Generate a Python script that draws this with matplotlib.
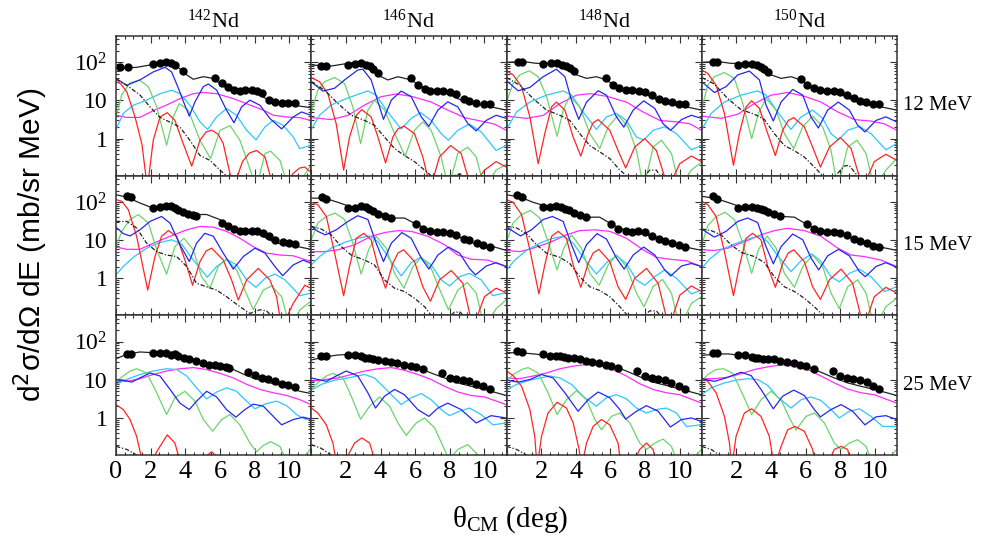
import matplotlib.pyplot as plt
from matplotlib.ticker import FixedLocator, MultipleLocator, LogLocator, NullFormatter

plt.rcParams['font.family'] = 'Liberation Serif'
plt.rcParams['mathtext.fontset'] = 'custom'
plt.rcParams['mathtext.rm'] = 'Liberation Serif'
plt.rcParams['mathtext.it'] = 'Liberation Serif:italic'

nuclei = ['142', '146', '148', '150']
energies = ['12 MeV', '15 MeV', '25 MeV']

# ---- 12 MeV ----
nd142_12 = dict(
    data=[(0.25, 74), (0.72, 74), (2.15, 90), (2.54, 98), (2.88, 102), (3.15, 94), (3.4, 83), (3.88, 60),
          (5.71, 40), (6.1, 29), (6.48, 22), (6.81, 18.7), (7.15, 18), (7.46, 18.7), (7.83, 18.7), (8.15, 17.6),
          (8.4, 16), (8.85, 10.6), (9.17, 9.4), (9.6, 8.7), (9.94, 8.7), (10.33, 8.7)],
    total=[(0, 69), (1.19, 74), (1.96, 85), (2.92, 98), (3.5, 80), (4.08, 47), (4.46, 36), (5.04, 42), (5.6, 38),
           (6.19, 24), (6.77, 17.6), (7.54, 17), (8.3, 13.8), (8.88, 9.8), (9.46, 8), (10.23, 7.5), (11.25, 6.5)],
    dashed=[(0, 36), (0.62, 25), (1.38, 14), (1.96, 6.8), (2.54, 3.6), (3.12, 2.7), (3.69, 2.0), (4.27, 0.9),
            (4.85, 0.36), (5.42, 0.27), (6, 0.15), (6.38, 0.107), (6.8, 0.07)],
    red=[(0, 31), (0.25, 28), (0.62, 17), (1.1, 3.7), (1.5, 0.7), (1.81, 0.05), (2.15, 0.91), (2.54, 3.7),
         (2.96, 4.8), (3.4, 3.0), (3.88, 0.74), (4.37, 0.19), (4.85, 0.91), (5.2, 1.5), (5.52, 1.66), (5.9, 1.3),
         (6.19, 0.74), (6.77, 0.05), (7.3, 0.25), (7.7, 0.42), (8.12, 0.49), (8.6, 0.33), (9.1, 0.05),
         (9.6, 0.03), (10.2, 0.12), (10.6, 0.17), (10.9, 0.18), (11.25, 0.13)],
    green=[(0, 3.6), (0.33, 14), (0.81, 29), (1.35, 34.5), (1.87, 23), (2.35, 6.8), (2.92, 0.67), (3.31, 3.7),
           (3.65, 8.3), (4.17, 5.6), (4.85, 0.9), (5.46, 0.3), (6, 1.65), (6.58, 2.2), (7.15, 0.91), (7.63, 0.22),
           (8.1, 0.05), (8.6, 0.41), (8.92, 0.47), (9.46, 0.27), (10.1, 0.03), (10.8, 0.1), (11.25, 0.2)],
    blue=[(0, 38), (0.62, 25), (1.38, 34.5), (2.15, 56), (2.83, 74), (3.21, 56), (3.6, 21), (4.0, 7), (4.23, 3.9),
          (4.56, 9.2), (5.04, 23), (5.33, 27), (5.81, 18.7), (6.38, 5.6), (6.81, 2.6), (7.25, 6.8), (7.73, 10.2),
          (8.31, 7.5), (8.88, 3.4), (9.56, 1.8), (10.23, 3.7), (10.71, 5.0), (11.25, 4.1)],
    cyan=[(0, 1.74), (0.42, 4.6), (1, 7.5), (1.77, 10.2), (2.54, 15), (3.21, 18.6), (3.69, 15.1), (4.27, 7.5),
          (4.85, 2.75), (5.29, 1.74), (5.81, 3.72), (6.38, 6.17), (6.96, 4.07), (7.54, 1.66), (8.08, 0.93),
          (8.6, 2.04), (9.08, 3.0), (9.65, 2.24), (10.23, 1.1), (10.6, 0.55), (11.25, 0.66)],
    magenta=[(0, 4.1), (0.62, 3.6), (1.38, 3.6), (2.15, 5.4), (2.92, 7.6), (3.69, 11.2), (4.46, 15.1), (5.04, 16.2),
             (5.81, 15.1), (6.77, 11.2), (7.73, 7.6), (8.5, 5.6), (9.08, 4.1), (9.85, 3.7), (10.6, 3.55), (11.25, 3.0)],
)

nd146_12 = dict(
    data=[(0.58, 80), (0.87, 80), (2.12, 85), (2.5, 89), (2.88, 94), (3.17, 85), (3.37, 80), (3.56, 66), (3.85, 51),
          (5.77, 38), (6.15, 25), (6.54, 19.5), (6.88, 17.6), (7.27, 17.6), (7.6, 17.6), (7.98, 16.9), (8.37, 14.7),
          (8.81, 10.8), (9.13, 9.8), (9.52, 8.7), (9.96, 8), (10.29, 8)],
    total=[(0, 85), (1.15, 80), (2.12, 94), (2.88, 104), (3.46, 77), (4.04, 42), (4.42, 34.5), (5, 42), (5.77, 34.5),
           (6.35, 23), (7.12, 17), (7.88, 15), (8.65, 10.2), (9.42, 8), (10.19, 7.1), (11.25, 5.6)],
    dashed=[(0, 31), (0.77, 18.6), (1.54, 8.3), (2.31, 4.1), (3.08, 3.0), (3.65, 2.24), (4.23, 1.1), (4.81, 0.55),
            (5.38, 0.36), (5.96, 0.25), (6.54, 0.15), (6.92, 0.107), (7.5, 0.06), (8.3, 0.11), (8.6, 0.12),
            (9.0, 0.08), (9.3, 0.05)],
    red=[(0, 40), (0.48, 31), (0.96, 15), (1.44, 2.45), (1.87, 0.15), (2.21, 1.1), (2.6, 4.1), (2.92, 5.75),
         (3.46, 3.7), (3.85, 1.1), (4.29, 0.23), (4.71, 1.1), (5.0, 1.8), (5.35, 2.14), (5.96, 1.35), (6.44, 0.33),
         (6.88, 0.05), (7.4, 0.33), (8.04, 0.66), (8.65, 0.41), (9.23, 0.05), (10.0, 0.15), (10.67, 0.25),
         (11.25, 0.18)],
    green=[(0, 5), (0.38, 18.6), (0.77, 31), (1.35, 40), (1.92, 28), (2.4, 6.8), (2.85, 0.74), (3.27, 5.6),
           (3.65, 10.2), (4.23, 5.6), (4.81, 1.35), (5.42, 0.35), (5.96, 1.66), (6.44, 2.75), (6.92, 1.66),
           (7.5, 0.33), (7.92, 0.05), (8.46, 0.41), (9.04, 0.6), (9.52, 0.33), (10.0, 0.05), (10.67, 0.15),
           (11.25, 0.21)],
    blue=[(0, 31), (0.67, 17.6), (1.35, 21), (1.92, 34.5), (2.69, 63), (2.98, 66), (3.46, 34.5), (3.85, 9.2),
          (4.17, 3.2), (4.62, 10.2), (5.19, 17.6), (5.77, 12.6), (6.35, 3.7), (6.79, 2.1), (7.31, 5.6), (7.88, 9.2),
          (8.46, 6.8), (9.04, 2.45), (9.52, 1.6), (10.1, 3.0), (10.67, 4.1), (11.25, 3.4)],
    cyan=[(0, 1.74), (0.48, 4.1), (1.15, 7.6), (1.92, 10.7), (2.69, 14.5), (3.27, 17.8), (3.75, 13.8), (4.33, 5.6),
          (5.19, 1.78), (5.77, 3.4), (6.31, 4.8), (6.92, 3.0), (7.5, 1.35), (7.92, 0.91), (8.46, 1.66), (9.13, 2.4),
          (9.81, 1.5), (10.67, 0.49), (11.25, 0.66)],
    magenta=[(0, 3.55), (1.15, 3.16), (2.12, 4.07), (3.08, 7.6), (4.04, 12.6), (4.9, 14.8), (5.77, 12.9),
             (6.92, 9.1), (7.88, 5.6), (8.85, 3.55), (9.81, 2.88), (10.58, 2.4), (11.25, 1.66)],
)

nd148_12 = dict(
    data=[(0.67, 104), (0.92, 104), (2.12, 91), (2.54, 94), (2.92, 94), (3.23, 85), (3.42, 80), (3.65, 72),
          (3.88, 60), (5.73, 38), (6.12, 26), (6.48, 21), (6.88, 18.7), (7.27, 18.7), (7.65, 18), (8.02, 16.9),
          (8.42, 13.8), (8.81, 10.8), (9.15, 9.8), (9.54, 8.9), (9.96, 8.3), (10.29, 8)],
    total=[(0, 100), (0.96, 105), (1.73, 94), (2.69, 94), (3.46, 77), (4.04, 47), (4.62, 38), (5.19, 42),
           (5.77, 34.5), (6.35, 23), (7.12, 18), (7.88, 16), (8.65, 10.6), (9.42, 8), (10.19, 7.1), (11.25, 5.6)],
    dashed=[(0, 40), (0.77, 25), (1.54, 11.2), (2.31, 5.6), (3.08, 4.1), (3.65, 3.0), (4.23, 1.35), (4.81, 0.66),
            (5.38, 0.45), (5.96, 0.3), (6.54, 0.15), (6.92, 0.107), (7.5, 0.06), (8.27, 0.15), (8.65, 0.15),
            (9.1, 0.07)],
    red=[(0, 60), (0.38, 47), (0.87, 23), (1.35, 3.7), (1.83, 0.22), (2.21, 1.35), (2.6, 6.8), (2.88, 9.1),
         (3.37, 5.6), (3.85, 1.1), (4.29, 0.35), (4.71, 1.35), (5.0, 2.6), (5.29, 3.16), (5.96, 1.66), (6.44, 0.49),
         (6.88, 0.17), (7.4, 0.6), (7.98, 1.0), (8.65, 0.49), (9.33, 0.05), (10.0, 0.22), (10.67, 0.35),
         (11.25, 0.25)],
    green=[(0, 9.1), (0.38, 28), (0.77, 47), (1.31, 60), (1.83, 42), (2.31, 12.6), (2.92, 1.15), (3.27, 5.6),
           (3.65, 12.9), (4.23, 6.8), (4.81, 1.35), (5.38, 0.55), (5.87, 2.04), (6.44, 4.1), (7.02, 2.04),
           (7.5, 0.49), (7.92, 0.05), (8.46, 0.6), (8.94, 0.91), (9.52, 0.41), (10.0, 0.05), (10.67, 0.15),
           (11.25, 0.24)],
    blue=[(0, 33), (0.67, 18), (1.35, 22), (2.12, 42), (2.88, 66), (3.37, 42), (3.75, 10.2), (4.17, 3.2),
          (4.62, 9.1), (5.29, 18), (5.77, 13.8), (6.35, 3.7), (6.77, 2.0), (7.31, 5.6), (7.92, 9.8), (8.56, 6.2),
          (9.04, 2.45), (9.48, 1.66), (10.1, 3.16), (10.67, 4.1), (11.25, 3.4)],
    cyan=[(0, 1.74), (0.58, 5), (1.35, 9.1), (2.31, 13.8), (3.27, 17.8), (3.75, 13.8), (4.42, 5), (5.19, 1.74),
          (5.77, 3.72), (6.35, 4.6), (6.92, 3.0), (7.5, 1.1), (7.94, 0.93), (8.46, 1.66), (9.13, 2.04), (9.81, 1.35),
          (10.67, 0.51), (11.25, 0.66)],
    magenta=[(0, 3.9), (1.15, 3.4), (2.12, 4.07), (3.08, 8.3), (4.04, 13.8), (4.81, 15.1), (5.77, 12.9),
             (6.92, 9.1), (7.88, 5), (8.85, 3.0), (9.81, 2.75), (10.58, 2.45), (11.25, 1.66)],
)

nd150_12 = dict(
    data=[(0.63, 104), (0.88, 104), (2.12, 85), (2.5, 91), (2.88, 91), (3.19, 85), (3.42, 77), (3.62, 66),
          (3.85, 57), (5.73, 36), (6.08, 25), (6.46, 21), (6.85, 18.7), (7.23, 18), (7.62, 18), (7.98, 16.9),
          (8.38, 13.8), (8.77, 11.3), (9.13, 9.6), (9.48, 8.9), (9.9, 8.3), (10.25, 8)],
    total=[(0, 100), (0.92, 105), (1.69, 94), (2.65, 94), (3.42, 77), (4, 47), (4.58, 38), (5.15, 42), (5.73, 34.5),
           (6.31, 23), (7.08, 18), (7.85, 16), (8.62, 10.6), (9.38, 8), (10.15, 7.1), (11.25, 5.6)],
    dashed=[(0, 40), (0.73, 27), (1.5, 11.2), (2.27, 5.75), (3.04, 4.37), (3.62, 3.16), (4.19, 1.35), (4.77, 0.66),
            (5.35, 0.48), (5.92, 0.33), (6.5, 0.18), (6.98, 0.107), (7.5, 0.08), (8.2, 0.19), (8.5, 0.2),
            (8.9, 0.12), (9.2, 0.05)],
    red=[(0, 63), (0.35, 51), (0.83, 25), (1.31, 4.57), (1.83, 0.2), (2.17, 1.35), (2.56, 6.8), (2.88, 9.8),
         (3.33, 6.2), (3.81, 1.35), (4.25, 0.36), (4.67, 1.66), (5.0, 3.0), (5.31, 3.55), (5.92, 2.04), (6.4, 0.6),
         (6.85, 0.18), (7.37, 0.6), (8.0, 1.07), (8.62, 0.55), (9.29, 0.05), (9.96, 0.25), (10.63, 0.39),
         (11.25, 0.27)],
    green=[(0, 6.2), (0.35, 25), (0.73, 42), (1.31, 54), (1.88, 38), (2.37, 8.3), (2.88, 1.0), (3.27, 4.57),
           (3.71, 11.2), (4.29, 5.6), (4.77, 1.35), (5.31, 0.55), (5.83, 2.04), (6.4, 3.9), (6.98, 2.04),
           (7.46, 0.49), (7.85, 0.05), (8.42, 0.6), (8.96, 0.91), (9.48, 0.41), (9.96, 0.05), (10.63, 0.15),
           (11.25, 0.3)],
    blue=[(0, 31), (0.73, 16.2), (1.4, 23), (2.08, 47), (2.75, 59), (3.33, 34.5), (3.71, 7.6), (4.13, 2.9),
          (4.58, 9.1), (5.25, 19.5), (5.83, 13.8), (6.31, 3.7), (6.73, 1.9), (7.27, 5.6), (7.88, 9.1), (8.52, 5.6),
          (9.0, 2.24), (9.42, 1.5), (10.06, 3.0), (10.63, 3.72), (11.25, 2.75)],
    cyan=[(0, 1.74), (0.54, 4.57), (1.31, 9.1), (2.27, 13.8), (3.23, 17.8), (3.71, 13.8), (4.38, 5), (5.15, 1.74),
          (5.73, 3.72), (6.4, 5.6), (6.98, 3.39), (7.46, 1.35), (7.9, 0.93), (8.42, 1.66), (9.1, 2.1), (9.77, 1.35),
          (10.63, 0.51), (11.25, 0.74)],
    magenta=[(0, 3.9), (1.12, 3.4), (2.08, 4.37), (3.04, 8.3), (4, 13.8), (4.96, 16.2), (5.92, 12.9), (6.88, 9.1),
             (7.85, 5), (8.81, 3.16), (9.77, 2.88), (10.54, 2.45), (11.25, 1.66)],
)

# ---- 15 MeV ----
nd142_15 = dict(
    data=[(0.62, 147), (0.85, 135), (2.15, 69), (2.54, 74), (2.88, 80), (3.15, 77), (3.4, 69), (3.6, 63),
          (3.88, 54), (4.17, 49), (4.42, 45), (4.62, 42), (6.1, 29), (6.48, 24), (6.81, 19.5), (7.15, 17.6),
          (7.46, 17.6), (7.83, 17.6), (8.15, 16.9), (8.46, 15.2), (8.85, 12.5), (9.17, 10.2), (9.62, 8.7),
          (9.98, 8.3), (10.33, 8)],
    total=[(0, 155), (0.62, 135), (1.38, 94), (2.15, 69), (2.92, 80), (3.69, 66), (4.46, 47), (5.23, 47),
           (6, 34.5), (6.77, 21), (7.54, 17), (8.31, 13.8), (9.08, 9.1), (9.85, 7.1), (10.62, 6.6), (11.25, 5.75)],
    dashed=[(0, 31), (0.62, 31), (1.19, 20.9), (1.77, 8.3), (2.35, 5), (2.92, 4.07), (3.5, 3.72), (4.08, 2.04),
            (4.65, 0.74), (5.23, 0.6), (5.81, 0.49), (6.38, 0.33), (7.15, 0.18), (7.73, 0.12), (8.31, 0.15),
            (8.69, 0.14), (9.2, 0.08)],
    red=[(0, 115), (0.33, 105), (0.71, 63), (1.19, 12.6), (1.83, 0.49), (2.25, 3.72), (2.63, 12.6), (3.02, 17.8),
         (3.5, 12.6), (3.98, 3.0), (4.42, 0.66), (4.85, 2.75), (5.2, 5.2), (5.52, 6.17), (6.19, 3.0), (6.67, 0.91),
         (7.06, 0.27), (7.54, 0.91), (8.21, 1.82), (8.88, 0.91), (9.27, 0.33), (9.56, 0.05), (10.23, 0.22),
         (10.9, 0.66), (11.25, 0.55)],
    green=[(0, 6.8), (0.33, 17), (0.81, 34.7), (1.29, 46.8), (1.87, 28.2), (2.35, 5.6), (2.92, 1.29), (3.4, 6.76),
           (3.92, 11.2), (4.46, 5.6), (4.94, 1.1), (5.42, 0.55), (5.9, 2.04), (6.38, 3.16), (6.96, 1.66),
           (7.44, 0.49), (7.92, 0.15), (8.5, 0.49), (8.98, 0.63), (9.56, 0.33), (10.04, 0.05), (10.62, 0.15),
           (11.25, 0.25)],
    blue=[(0, 22), (0.42, 14.8), (0.81, 12.9), (1.38, 18.6), (1.96, 31), (2.63, 41.7), (3.12, 28), (3.69, 7.6),
          (4.23, 2.75), (4.65, 8.3), (5.13, 15.1), (5.62, 12.6), (6.19, 4.57), (6.77, 1.74), (7.35, 3.72),
          (8.02, 6.17), (8.6, 4.57), (9.17, 2.04), (9.62, 1.17), (10.23, 2.24), (10.81, 3.0), (11.25, 2.45)],
    cyan=[(0, 1.23), (0.42, 2.04), (1, 3.55), (1.77, 6.17), (2.54, 8.7), (3.21, 10.2), (3.79, 7.94), (4.37, 3.39),
          (5.27, 1.07), (5.81, 2.04), (6.38, 3.16), (6.96, 2.24), (7.54, 0.91), (8.08, 0.58), (8.6, 1.0),
          (9.17, 1.29), (9.75, 0.91), (10.62, 0.35), (11.25, 0.41)],
    magenta=[(0, 6.6), (0.62, 5.75), (1.38, 5.75), (2.15, 8.3), (3.12, 12.6), (4.08, 18.6), (4.85, 22.9),
             (5.62, 21.9), (6.38, 17), (7.15, 11.2), (7.92, 6.76), (8.69, 4.57), (9.46, 4.07), (10.23, 3.89),
             (11.25, 2.75)],
)

nd146_15 = dict(
    data=[(0.62, 135), (0.87, 120), (2.12, 69), (2.5, 69), (2.88, 80), (3.17, 74), (3.31, 66), (3.56, 57),
          (3.88, 49), (4.23, 44), (4.58, 38), (6.06, 26), (6.44, 19.5), (6.88, 16.9), (7.27, 16.2), (7.6, 16.2),
          (7.98, 15.2), (8.37, 13.3), (8.81, 10.8), (9.13, 9.8), (9.56, 8.3), (9.94, 7.5), (10.29, 6.8)],
    total=[(0, 126), (0.77, 126), (1.54, 98), (2.31, 74), (3.08, 77), (3.85, 56), (4.62, 38), (5.38, 38),
           (6.15, 25), (6.92, 17.8), (7.69, 15.1), (8.46, 12.6), (9.23, 8.7), (10, 7.1), (10.58, 6.6), (11.25, 5.4)],
    dashed=[(0, 23), (0.58, 19.5), (1.15, 13.8), (1.73, 6.76), (2.31, 4.07), (3.08, 3.0), (3.65, 2.24),
            (4.23, 0.91), (4.81, 0.55), (5.38, 0.45), (5.96, 0.3), (6.54, 0.18), (6.92, 0.107), (7.6, 0.07),
            (8.27, 0.13), (8.6, 0.13), (9.0, 0.08)],
    red=[(0, 98), (0.38, 85), (0.87, 41.7), (1.35, 4.57), (1.87, 0.35), (2.21, 2.04), (2.6, 11.2), (3.04, 15.1),
         (3.46, 10.2), (3.85, 2.04), (4.29, 0.55), (4.71, 2.45), (5.0, 4.57), (5.33, 5.6), (5.96, 2.75),
         (6.44, 0.6), (6.88, 0.25), (7.4, 0.91), (8.08, 1.6), (8.75, 0.74), (9.33, 0.05), (10.0, 0.33),
         (10.67, 0.55), (11.25, 0.42)],
    green=[(0, 10.2), (0.38, 28.2), (0.87, 41.7), (1.38, 51.3), (1.92, 34.7), (2.4, 8.3), (2.88, 1.29),
           (3.31, 5.6), (3.75, 12.6), (4.33, 6.17), (4.81, 1.35), (5.35, 0.55), (5.87, 2.04), (6.35, 3.55),
           (6.92, 1.82), (7.5, 0.41), (7.92, 0.15), (8.46, 0.49), (9.0, 0.78), (9.52, 0.41), (10.0, 0.05),
           (10.67, 0.16), (11.25, 0.27)],
    blue=[(0, 23), (0.38, 17), (0.81, 13.8), (1.44, 18.6), (2.12, 31), (2.69, 43.7), (3.27, 34.7), (3.75, 8.3),
          (4.17, 2.75), (4.62, 8.3), (5.23, 15.8), (5.77, 11.2), (6.35, 3.39), (6.79, 1.74), (7.31, 4.07),
          (7.92, 6.6), (8.56, 4.57), (9.13, 1.82), (9.48, 1.23), (10.1, 2.1), (10.67, 2.57), (11.25, 2.04)],
    cyan=[(0, 2.24), (0.48, 3.72), (1.15, 6.17), (1.92, 8.7), (2.7, 11.2), (3.37, 12.9), (3.85, 9.1), (4.42, 3.72),
          (5.19, 1.15), (5.77, 2.57), (6.31, 3.55), (6.92, 2.24), (7.5, 0.91), (7.98, 0.63), (8.56, 1.1),
          (9.13, 1.35), (9.81, 0.91), (10.48, 0.35), (11.25, 0.42)],
    magenta=[(0, 5), (0.77, 5), (1.54, 5.6), (2.5, 7.6), (3.46, 12.6), (4.23, 15.8), (5, 17.8), (5.77, 17),
             (6.73, 12.6), (7.69, 7.6), (8.46, 4.07), (9.23, 3.16), (10.19, 3.0), (11.25, 2.04)],
)

nd148_15 = dict(
    data=[(0.62, 155), (0.87, 135), (2.12, 74), (2.5, 74), (2.88, 77), (3.17, 72), (3.4, 66), (3.6, 60),
          (3.88, 51), (4.23, 47), (4.58, 40), (6.06, 27), (6.44, 20), (6.88, 17), (7.27, 16.2), (7.6, 17),
          (7.98, 16), (8.37, 13), (8.81, 10.8), (9.17, 9.6), (9.56, 8.3), (9.94, 7.5), (10.29, 6.5)],
    total=[(0, 155), (0.77, 135), (1.54, 98), (2.31, 77), (3.08, 77), (3.85, 56), (4.62, 40), (5.38, 40),
           (6.15, 25), (6.92, 17.8), (7.69, 15.1), (8.46, 12.6), (9.23, 8.7), (10, 7.1), (11.25, 5.4)],
    dashed=[(0, 23), (0.58, 20.9), (1.15, 14.8), (1.73, 7.6), (2.31, 4.57), (3.08, 3.55), (3.65, 2.45),
            (4.23, 1.1), (4.81, 0.6), (5.38, 0.48), (5.96, 0.33), (6.54, 0.18), (6.92, 0.115), (7.6, 0.08),
            (8.27, 0.14), (8.65, 0.14), (9.0, 0.09)],
    red=[(0, 115), (0.38, 98), (0.87, 46.8), (1.35, 5.6), (1.87, 0.39), (2.21, 2.24), (2.6, 12.6), (2.98, 17),
         (3.46, 11.2), (3.85, 2.24), (4.29, 0.58), (4.71, 2.45), (5.0, 4.6), (5.33, 5.75), (5.96, 2.75),
         (6.44, 0.6), (6.88, 0.28), (7.4, 1.0), (8.08, 1.82), (8.75, 0.74), (9.38, 0.05), (10.0, 0.36),
         (10.67, 0.63), (11.25, 0.45)],
    green=[(0, 9.1), (0.38, 28.2), (0.87, 46.8), (1.38, 60.3), (1.92, 38), (2.4, 9.1), (2.92, 1.66), (3.31, 6.17),
           (3.75, 13.8), (4.33, 6.17), (4.81, 1.35), (5.35, 0.66), (5.87, 2.24), (6.35, 4.07), (6.92, 2.04),
           (7.5, 0.41), (7.94, 0.18), (8.46, 0.6), (9.0, 0.93), (9.52, 0.41), (10.0, 0.05), (10.67, 0.22),
           (11.25, 0.33)],
    blue=[(0, 22), (0.81, 12.9), (1.44, 18.6), (2.12, 34.7), (2.65, 41.7), (3.27, 30.9), (3.75, 7.6), (4.17, 2.57),
          (4.62, 7.6), (5.23, 14.8), (5.77, 10.7), (6.35, 3.39), (6.79, 1.74), (7.31, 4.07), (7.92, 6.6),
          (8.56, 4.07), (9.13, 1.66), (9.48, 1.15), (10.1, 2.1), (10.67, 2.45), (11.25, 2.04)],
    cyan=[(0, 1.66), (0.48, 3.0), (1.15, 5.37), (1.92, 8.3), (2.6, 11), (3.27, 12.6), (3.85, 8.3), (4.42, 3.55),
          (5.19, 1.29), (5.77, 2.57), (6.35, 3.89), (6.92, 2.45), (7.5, 0.91), (7.98, 0.66), (8.56, 1.1),
          (9.13, 1.66), (9.81, 1.0), (10.67, 0.39), (11.25, 0.49)],
    magenta=[(0, 5.37), (0.77, 5), (1.54, 6.17), (2.5, 8.7), (3.46, 13.8), (4.23, 17.8), (5.1, 18.6), (5.96, 17),
             (6.92, 11.2), (7.88, 5.6), (8.65, 3.55), (9.42, 3.16), (10.38, 2.88), (11.25, 2.04)],
)

nd150_15 = dict(
    data=[(0.63, 141), (0.88, 120), (2.12, 69), (2.5, 72), (2.88, 72), (3.19, 69), (3.42, 66), (3.62, 63),
          (3.85, 54), (4.19, 48), (4.54, 42), (6.08, 27), (6.46, 20), (6.85, 16.9), (7.23, 16.2), (7.62, 16.2),
          (7.98, 15.2), (8.38, 13.3), (8.77, 10.6), (9.13, 9.6), (9.52, 8.3), (9.9, 7.1), (10.25, 6.8)],
    total=[(0, 141), (0.73, 126), (1.5, 98), (2.27, 74), (3.04, 77), (3.81, 56), (4.58, 42), (5.35, 40),
           (6.12, 25), (6.88, 17.8), (7.65, 15.1), (8.42, 12.6), (9.19, 8.7), (9.96, 7.1), (11.25, 5.4)],
    dashed=[(0, 19.5), (0.54, 17.8), (1.12, 13.8), (1.69, 7.6), (2.27, 4.79), (3.04, 3.72), (3.62, 2.57),
            (4.19, 1.1), (4.77, 0.6), (5.35, 0.45), (5.92, 0.3), (6.5, 0.18), (6.88, 0.12), (7.6, 0.07),
            (8.3, 0.105), (8.7, 0.105), (9.0, 0.07)],
    red=[(0, 105), (0.35, 85), (0.83, 41.7), (1.31, 5), (1.83, 0.35), (2.17, 2.04), (2.56, 11.2), (2.94, 15.1),
         (3.42, 10.2), (3.81, 2.04), (4.25, 0.58), (4.67, 2.45), (5.0, 4.6), (5.31, 5.6), (5.92, 2.75), (6.4, 0.6),
         (6.85, 0.28), (7.37, 0.91), (8.04, 1.74), (8.71, 0.74), (9.35, 0.05), (9.96, 0.33), (10.63, 0.58),
         (11.25, 0.41)],
    green=[(0, 7.6), (0.35, 24), (0.83, 41.7), (1.35, 53.7), (1.88, 34.7), (2.37, 8.3), (2.88, 1.35), (3.27, 5.6),
           (3.77, 12.9), (4.29, 6.17), (4.77, 1.35), (5.35, 0.58), (5.83, 2.04), (6.4, 4.07), (6.98, 2.04),
           (7.46, 0.41), (7.94, 0.16), (8.42, 0.6), (9.0, 0.91), (9.48, 0.41), (9.96, 0.05), (10.63, 0.18),
           (11.25, 0.3)],
    blue=[(0, 19.5), (0.73, 12), (1.4, 17), (2.08, 30.9), (2.65, 38), (3.23, 28.8), (3.71, 6.76), (4.13, 2.4),
          (4.58, 6.76), (5.25, 14.5), (5.83, 10.2), (6.31, 3.39), (6.75, 1.66), (7.27, 3.89), (7.9, 5.75),
          (8.52, 3.89), (9.1, 1.5), (9.44, 1.1), (10.06, 2.04), (10.63, 2.57), (11.25, 1.95)],
    cyan=[(0, 1.82), (0.44, 3.16), (1.12, 5.6), (1.88, 7.9), (2.6, 10.5), (3.33, 12.9), (3.81, 9.1), (4.38, 3.89),
          (5.15, 1.5), (5.73, 2.88), (6.35, 4.37), (6.88, 2.75), (7.46, 1.1), (7.94, 0.81), (8.52, 1.35),
          (9.1, 1.74), (9.77, 1.1), (10.54, 0.45), (11.25, 0.6)],
    magenta=[(0, 5.6), (0.73, 5.37), (1.5, 6.17), (2.46, 9.1), (3.42, 13.8), (4.19, 17.8), (4.96, 20.4),
             (5.92, 17.8), (6.88, 12.6), (7.85, 6.17), (8.62, 4.07), (9.38, 3.72), (10.35, 3.0), (11.25, 2.04)],
)

# ---- 25 MeV ----
nd142_25 = dict(
    data=[(0.62, 47), (0.85, 48), (2.15, 51), (2.54, 51), (2.88, 49), (3.15, 44), (3.4, 47), (3.6, 42),
          (3.92, 38), (4.23, 34.5), (4.62, 31), (5, 28), (5.38, 25), (5.71, 24), (6, 23), (6.33, 22), (6.54, 21),
          (7.63, 16), (8.02, 13), (8.4, 11.3), (8.79, 10.2), (9.17, 9.2), (9.56, 8), (9.9, 7.1), (10.33, 6.5)],
    total=[(0, 35.5), (0.62, 46.8), (1.38, 53.7), (2.15, 51.3), (2.92, 43.7), (3.69, 38), (4.46, 33.1),
           (5.23, 26.9), (6, 24), (6.77, 18.6), (7.54, 12.9), (8.31, 9.8), (9.08, 7.9), (9.85, 6.6), (10.62, 5),
           (11.25, 4.37)],
    dashed=[(0, 0.18), (0.62, 0.15), (1.19, 0.107), (1.6, 0.08)],
    red=[(0, 2.24), (0.42, 1.66), (0.81, 0.91), (1.19, 0.33), (1.6, 0.05), (2.2, 0.1), (2.54, 0.18), (2.96, 0.36),
         (3.4, 0.22), (3.8, 0.05), (4.6, 0.02), (5.2, 0.1), (5.52, 0.13), (5.8, 0.1), (6.2, 0.03)],
    green=[(0, 9.1), (0.42, 12.6), (0.81, 17), (1.19, 19.5), (1.77, 15.1), (2.35, 4.57), (2.92, 1.23), (3.4, 3.39),
           (3.98, 5), (4.56, 2.75), (5.04, 0.91), (5.58, 0.45), (6.1, 0.91), (6.58, 1.23), (7.15, 0.66),
           (7.73, 0.22), (8.12, 0.13), (8.5, 0.19), (8.92, 0.24), (9.46, 0.18), (10.0, 0.05), (10.7, 0.08),
           (11.1, 0.13), (11.25, 0.16)],
    blue=[(0, 10.2), (0.42, 9.8), (0.9, 8.7), (1.38, 11.2), (1.96, 15.1), (2.54, 12.6), (3.12, 5.6), (3.69, 2.45),
          (4.23, 1.66), (4.65, 2.75), (5.23, 5), (5.81, 3.55), (6.38, 1.66), (6.92, 1.05), (7.44, 1.66),
          (7.92, 2.3), (8.5, 2.04), (9.08, 1.1), (9.56, 0.66), (10.23, 0.91), (10.81, 1.05), (11.25, 0.93)],
    cyan=[(0, 7.6), (0.62, 10.2), (1.38, 13.8), (2.15, 17), (2.92, 19.5), (3.5, 18.6), (4.08, 12.6), (4.65, 6.17),
          (5.23, 3.16), (5.81, 4.79), (6.38, 6.17), (6.96, 5), (7.54, 2.75), (8.02, 1.74), (8.69, 2.4),
          (9.27, 2.75), (9.85, 2.1), (10.42, 1.23), (10.9, 0.93), (11.25, 0.93)],
    magenta=[(0, 9.1), (0.62, 9.1), (1.38, 10.7), (2.15, 13.8), (2.92, 17), (3.69, 19.5), (4.46, 20.9),
             (5.23, 18.6), (6, 14.8), (6.77, 11.2), (7.54, 7.6), (8.31, 5.6), (9.08, 4.57), (9.85, 3.89),
             (10.62, 3.0), (11.25, 2.24)],
)

nd146_25 = dict(
    data=[(0.58, 42), (0.87, 42), (2.12, 44), (2.5, 44), (2.88, 42), (3.08, 38), (3.31, 38), (3.56, 36),
          (3.88, 33), (4.23, 31), (4.58, 30), (4.96, 27), (5.35, 25), (5.73, 23), (6.06, 21.5), (6.44, 18.7),
          (7.54, 15.2), (7.98, 11.3), (8.37, 10.2), (8.75, 9.8), (9.1, 9.2), (9.52, 8), (9.94, 6.8), (10.29, 5.6)],
    total=[(0, 33.1), (0.77, 39.8), (1.54, 44.7), (2.31, 46.8), (3.08, 41.7), (3.85, 35.5), (4.62, 30.9),
           (5.38, 25.1), (6.15, 20.9), (6.92, 15.1), (7.69, 11.2), (8.46, 8.3), (9.23, 6.76), (10, 5.6),
           (11.25, 3.89)],
    dashed=[(0, 0.2), (0.58, 0.16), (1.15, 0.107), (1.5, 0.08)],
    red=[(0, 1.82), (0.38, 1.35), (0.87, 0.66), (1.25, 0.22), (1.5, 0.05), (2.1, 0.1), (2.5, 0.22), (2.92, 0.3),
         (3.37, 0.22), (3.7, 0.07), (4.0, 0.02)],
    green=[(0, 5.6), (0.38, 8.3), (0.87, 12.6), (1.25, 14.8), (1.83, 11.2), (2.31, 3.72), (2.85, 0.93),
           (3.37, 2.04), (3.94, 3.55), (4.52, 2.04), (5, 0.74), (5.48, 0.35), (6.06, 0.74), (6.54, 1.0),
           (7.12, 0.55), (7.69, 0.15), (7.95, 0.08), (8.46, 0.15), (9.04, 0.2), (9.52, 0.12), (9.9, 0.05)],
    blue=[(0, 11.2), (0.38, 10.2), (0.87, 9.1), (1.44, 12.6), (2.02, 17), (2.69, 12.6), (3.27, 4.57), (3.71, 1.82),
          (4.23, 3.72), (4.81, 5.6), (5.38, 4.07), (6.15, 1.66), (6.79, 1.1), (7.31, 1.82), (7.88, 2.45),
          (8.65, 1.66), (9.52, 0.74), (10.38, 1.15), (11.25, 1.0)],
    cyan=[(0, 5.37), (0.58, 7.6), (1.35, 9.8), (2.12, 11.2), (3.08, 13.8), (3.65, 11.2), (4.23, 6.17),
          (5.19, 2.24), (5.77, 3.39), (6.35, 4.37), (6.92, 3.0), (7.5, 1.66), (7.98, 1.15), (8.56, 1.5),
          (9.13, 1.82), (9.81, 1.23), (10.48, 0.66), (11.25, 0.74)],
    magenta=[(0, 9.1), (0.77, 10.2), (1.54, 11.2), (2.31, 13.8), (3.08, 17), (3.85, 19.5), (4.62, 20.9),
             (5.38, 17.8), (6.15, 13.8), (6.92, 10.2), (7.69, 6.76), (8.46, 4.79), (9.23, 3.89), (10, 3.55),
             (11.25, 2.24)],
)

nd148_25 = dict(
    data=[(0.62, 57), (0.87, 54), (2.12, 47), (2.5, 42), (2.88, 42), (3.08, 42), (3.31, 40), (3.56, 38),
          (3.88, 38), (4.23, 36), (4.58, 32), (4.96, 29), (5.35, 27), (5.73, 24), (6.06, 23), (6.44, 21),
          (7.54, 17), (7.98, 12.6), (8.37, 11.3), (8.75, 10.6), (9.13, 9.6), (9.52, 8.3), (9.94, 6.8), (10.29, 5.9)],
    total=[(0, 51.3), (0.77, 51.3), (1.54, 47.9), (2.31, 43.7), (3.08, 39.8), (3.85, 35.5), (4.62, 30.9),
           (5.38, 26.9), (6.15, 22.9), (6.92, 17), (7.69, 12), (8.46, 8.7), (9.23, 7.1), (10, 5.75), (11.25, 4.07)],
    dashed=[(0, 0.18), (0.58, 0.15), (1.15, 0.107), (1.5, 0.08)],
    red=[(0, 17), (0.38, 12.9), (0.87, 6.76), (1.35, 1.66), (1.63, 0.33), (1.77, 0.05), (2.02, 0.33), (2.4, 1.35),
         (2.92, 2.57), (3.46, 1.82), (3.85, 0.74), (4.19, 0.15), (4.33, 0.05), (4.62, 0.22), (5.0, 0.6),
         (5.48, 0.91), (5.96, 0.66), (6.44, 0.22), (6.63, 0.05), (7.2, 0.05), (7.69, 0.15), (8.08, 0.22),
         (8.46, 0.15), (8.7, 0.05)],
    green=[(0, 9.1), (0.38, 13.8), (0.87, 18.6), (1.25, 20.9), (1.83, 15.1), (2.4, 4.57), (2.92, 1.23), (3.46, 3.0),
           (4.04, 5.2), (4.62, 3.0), (5.1, 0.91), (5.48, 0.49), (6.06, 1.1), (6.54, 1.35), (7.12, 0.74),
           (7.69, 0.22), (8.08, 0.15), (8.56, 0.22), (9.04, 0.28), (9.52, 0.18), (9.81, 0.08), (10.3, 0.03),
           (10.9, 0.1), (11.25, 0.15)],
    blue=[(0, 9.8), (0.67, 8.7), (1.35, 10.2), (2.02, 13.8), (2.69, 11.2), (3.37, 4.57), (4.13, 1.5), (4.71, 3.0),
          (5.29, 4.79), (5.96, 3.39), (6.54, 1.66), (6.88, 0.93), (7.5, 1.5), (8.08, 2.1), (8.75, 1.5),
          (9.46, 0.58), (10.1, 0.91), (10.67, 1.0), (11.25, 0.81)],
    cyan=[(0, 5.37), (0.58, 7.6), (1.35, 9.8), (2.5, 12.6), (3.08, 11.2), (3.75, 7.6), (4.42, 3.72), (5.19, 2.04),
          (5.77, 3.39), (6.35, 4.07), (6.92, 3.16), (7.5, 1.82), (8.08, 1.35), (8.65, 1.66), (9.23, 1.82),
          (9.81, 1.35), (10.38, 0.6), (11.25, 0.66)],
    magenta=[(0, 11.2), (0.77, 10.7), (1.54, 12.6), (2.31, 15.1), (3.08, 19.5), (3.85, 22.9), (4.62, 25.1),
             (5.38, 24), (6.15, 18.6), (6.92, 12.6), (7.69, 7.9), (8.46, 5.6), (9.23, 4.57), (10, 4.07),
             (11.25, 2.45)],
)

nd150_25 = dict(
    data=[(0.63, 51), (0.88, 51), (2.12, 45), (2.5, 44), (2.88, 40), (3.08, 38), (3.27, 38), (3.52, 36),
          (3.85, 36), (4.19, 34.5), (4.54, 31), (4.92, 29), (5.31, 27), (5.69, 24), (6.02, 23), (6.46, 19.5),
          (7.56, 17), (7.98, 12.6), (8.37, 11.3), (8.75, 10.6), (9.13, 9.6), (9.52, 8.7), (9.9, 6.8), (10.25, 5.6)],
    total=[(0, 43.7), (0.73, 46.8), (1.5, 47.9), (2.27, 43.7), (3.04, 39.8), (3.81, 35.5), (4.58, 30.9),
           (5.35, 26.9), (6.12, 21.9), (6.88, 15.8), (7.65, 11.2), (8.42, 8.3), (9.19, 6.76), (9.96, 5.6),
           (11.25, 3.89)],
    dashed=[(0, 0.18), (0.54, 0.15), (1.02, 0.107), (1.4, 0.08)],
    red=[(0, 11.2), (0.35, 9.1), (0.83, 4.57), (1.31, 1.1), (1.6, 0.22), (1.73, 0.05), (1.98, 0.33), (2.46, 1.35),
         (2.88, 1.74), (3.42, 1.1), (3.9, 0.33), (4.19, 0.05), (4.58, 0.18), (4.96, 0.49), (5.38, 0.6),
         (5.92, 0.45), (6.4, 0.15), (6.6, 0.05), (7.2, 0.05), (7.65, 0.15), (8.04, 0.18), (8.42, 0.15), (8.7, 0.05)],
    green=[(0, 9.1), (0.35, 13.8), (0.83, 18.6), (1.25, 19.5), (1.79, 14.8), (2.37, 4.07), (2.88, 1.23), (3.42, 3.0),
           (4.0, 5.0), (4.58, 3.0), (5.06, 1.0), (5.44, 0.48), (6.02, 1.1), (6.5, 1.35), (7.08, 0.74), (7.65, 0.22),
           (8.04, 0.15), (8.52, 0.22), (9.0, 0.27), (9.48, 0.18), (9.77, 0.08), (10.3, 0.03), (10.9, 0.1),
           (11.25, 0.15)],
    blue=[(0, 10.7), (0.73, 9.1), (1.4, 11.2), (2.27, 15.8), (2.85, 12.9), (3.42, 5.6), (4.13, 1.74), (4.67, 3.72),
          (5.31, 5.37), (5.92, 3.89), (6.5, 1.66), (6.85, 1.07), (7.46, 1.66), (8.04, 2.24), (8.71, 1.5),
          (9.42, 0.66), (10.06, 1.07), (10.63, 1.15), (11.25, 0.91)],
    cyan=[(0, 4.07), (0.54, 6.17), (1.31, 8.3), (2.0, 9.8), (2.65, 10.7), (3.23, 10.2), (3.81, 7.1), (4.38, 3.55),
          (5.15, 1.82), (5.73, 3.0), (6.31, 3.55), (6.88, 2.88), (7.46, 1.66), (7.94, 1.0), (8.52, 1.5),
          (9.1, 1.74), (9.77, 1.1), (10.44, 0.6), (11.25, 0.6)],
    magenta=[(0, 10.7), (0.73, 10.7), (1.5, 11.7), (2.27, 14.5), (3.04, 18.6), (3.81, 21.9), (4.58, 24.5),
             (5.35, 22.9), (6.12, 18.6), (6.88, 12.6), (7.65, 8.3), (8.42, 5.75), (9.19, 4.57), (9.96, 4.07),
             (11.25, 2.45)],
)

panels = [[nd142_12, nd146_12, nd148_12, nd150_12],
          [nd142_15, nd146_15, nd148_15, nd150_15],
          [nd142_25, nd146_25, nd148_25, nd150_25]]

colors = {'magenta': '#ff2bff', 'cyan': '#2bc8ff', 'blue': '#2626f0',
          'green': '#6cd46c', 'red': '#ff2424'}


def xy(pts):
    return [p[0] for p in pts], [p[1] for p in pts]


fig, axes = plt.subplots(3, 4, figsize=(9.97, 5.45), dpi=100)
fig.subplots_adjust(left=116 / 997, right=897 / 997, top=1 - 36 / 545, bottom=1 - 455 / 545,
                    wspace=0, hspace=0)

for i in range(3):
    for j in range(4):
        ax = axes[i][j]
        p = panels[i][j]
        for name in ['magenta', 'cyan', 'green', 'red', 'blue']:
            x, y = xy(p[name])
            ax.plot(x, y, color=colors[name], lw=0.9)
        x, y = xy(p['dashed'])
        ax.plot(x, y, color='#222222', lw=0.9, dashes=(3.5, 1.5, 1, 1.5))
        x, y = xy(p['total'])
        ax.plot(x, y, color='#222222', lw=0.9)
        x, y = xy(p['data'])
        ax.plot(x, y, 'o', color='black', ms=5, mec='black')

        ax.set_yscale('log')
        ax.set_xlim(0, 11.27)
        ax.set_ylim(0.107, 490)
        ax.yaxis.set_major_locator(FixedLocator([1, 10, 100]))
        ax.yaxis.set_minor_locator(LogLocator(base=10, subs=range(2, 10)))
        ax.yaxis.set_minor_formatter(NullFormatter())
        ax.set_xticks([0, 2, 4, 6, 8, 10])
        ax.xaxis.set_minor_locator(MultipleLocator(0.5))
        ax.tick_params(which='both', direction='in', top=True, right=True, width=0.8, color='#333333')
        ax.tick_params(which='major', length=5)
        ax.tick_params(which='minor', length=2.5)
        for s in ax.spines.values():
            s.set_linewidth(1.1)
            s.set_color('#333333')

        if j == 0:
            ax.set_yticklabels(['1', '10', '10$^2$'], fontsize=17)
        else:
            ax.set_yticklabels([])
        if i == 2:
            labs = ['0', '2', '4', '6', '8', '10'] if j == 0 else ['', '2', '4', '6', '8', '10']
            ax.set_xticklabels(labs, fontsize=19)
        else:
            ax.set_xticklabels([])
        ax.tick_params(axis='y', pad=6)
        ax.tick_params(axis='x', pad=4)

        if i == 0:
            ax.set_title('$^{' + nuclei[j] + '}$Nd', fontsize=16, pad=6)
        if j == 3:
            ax.text(1.03, 0.5, energies[i], transform=ax.transAxes, ha='left', va='center', fontsize=15)

fig.text(0.031, 0.55, 'd$^2$σ/dΩ dE (mb/sr MeV)', rotation=90, ha='center', va='center',
         fontsize=21.5, family='Liberation Sans', math_fontfamily='dejavusans')
fig.text(0.512, 0.046, 'θ$_{\\rm CM}$ (deg)', ha='center', va='center', fontsize=21)

plt.savefig('out.png', dpi=100)
